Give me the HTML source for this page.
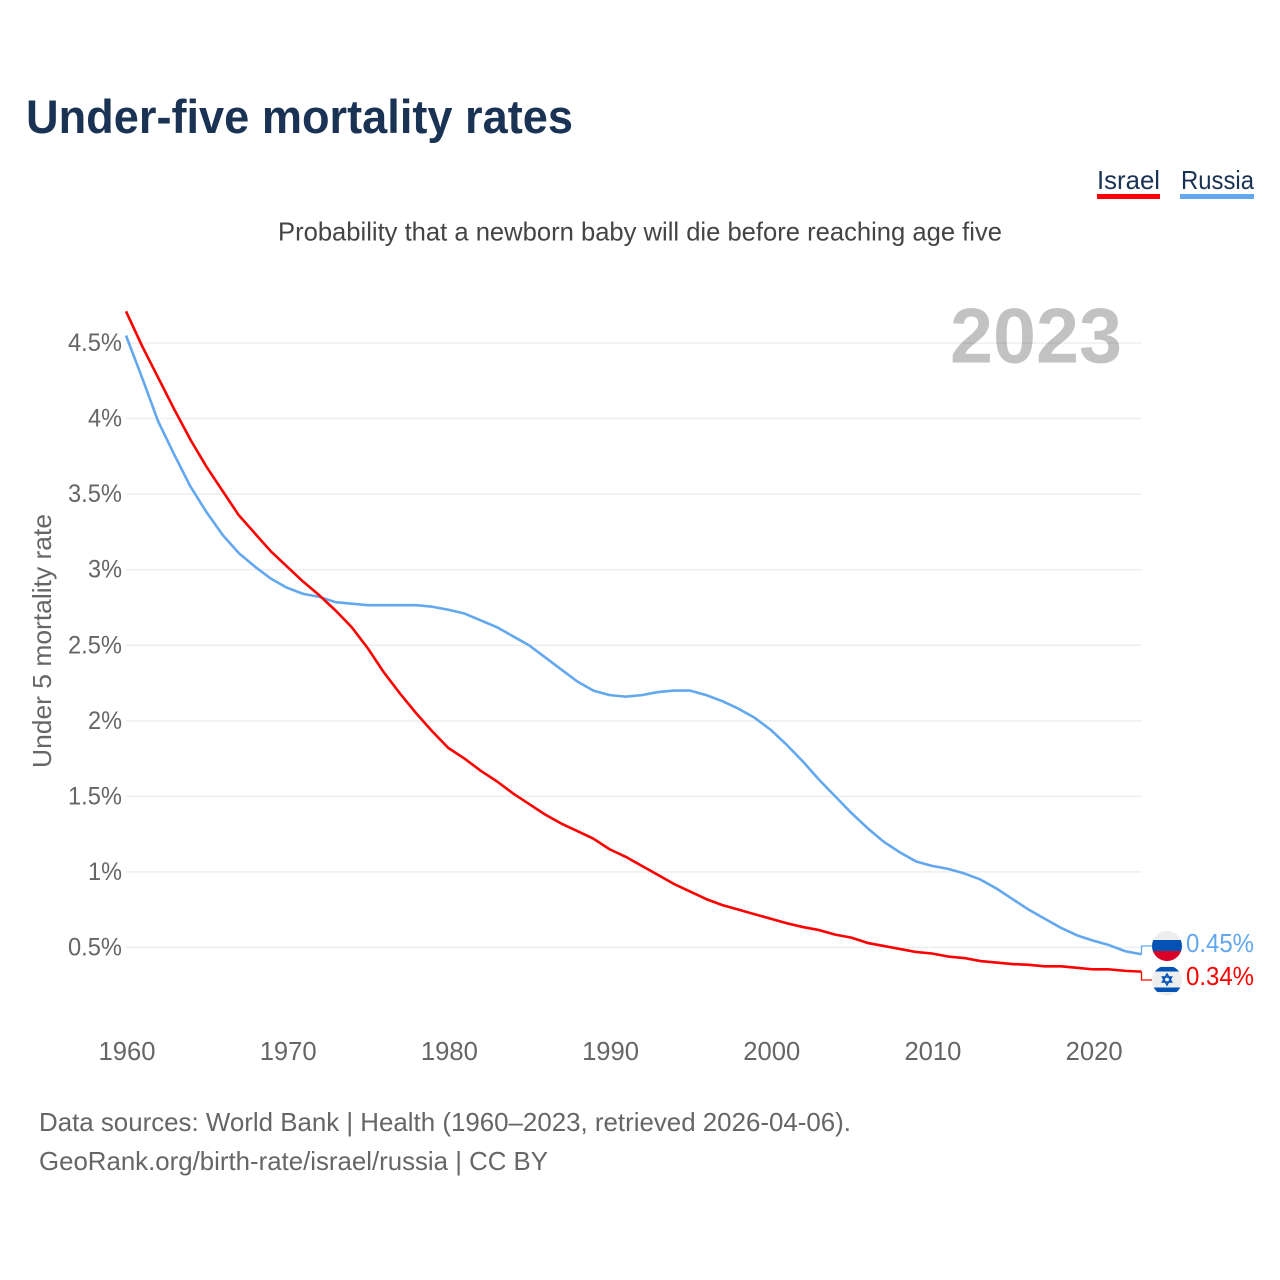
<!DOCTYPE html>
<html lang="en">
<head>
<meta charset="utf-8">
<title>Under-five mortality rates</title>
<style>
html,body{margin:0;padding:0;background:#fff;width:1280px;height:1280px;overflow:hidden}
svg{display:block;font-family:"Liberation Sans",sans-serif}
</style>
</head>
<body>
<svg id="chart" width="1280" height="1280" viewBox="0 0 1280 1280" xmlns="http://www.w3.org/2000/svg">
  <rect width="1280" height="1280" fill="#fff"/>
  <text x="26" y="133" font-size="47" font-weight="700" fill="#1a3354" textLength="547" lengthAdjust="spacingAndGlyphs">Under-five mortality rates</text>
  <g>
    <text x="1097" y="189" font-size="26" fill="#1a3354" textLength="63" lengthAdjust="spacingAndGlyphs">Israel</text>
    <rect x="1097" y="194" width="63" height="5" fill="#ff0000"/>
  </g>
  <g>
    <text x="1181" y="189" font-size="26" fill="#1a3354" textLength="73" lengthAdjust="spacingAndGlyphs">Russia</text>
    <rect x="1180" y="194" width="74" height="5" fill="#63a8ef"/>
  </g>
  <text x="278" y="240.5" font-size="26" fill="#444" textLength="724" lengthAdjust="spacingAndGlyphs">Probability that a newborn baby will die before reaching age five</text>
  <g id="grid"></g>
  <text x="1122" y="362.5" font-size="78" font-weight="700" fill="#000" fill-opacity="0.24" text-anchor="end" textLength="172" lengthAdjust="spacingAndGlyphs">2023</text>
  <g id="yTicks"></g>
  <g id="xTicks"></g>
  <text transform="translate(51,641) rotate(-90)" font-size="26" fill="#666" text-anchor="middle" textLength="254" lengthAdjust="spacingAndGlyphs">Under 5 mortality rate</text>
  <path id="lineRussia" fill="none" stroke="#63a8ef" stroke-width="2.6" stroke-linejoin="round"/>
  <path id="lineIsrael" fill="none" stroke="#ff0000" stroke-width="2.6" stroke-linejoin="round"/>
  <path id="leaderRussia" fill="none" stroke="#63a8ef" stroke-width="1.3"/>
  <path id="leaderIsrael" fill="none" stroke="#ff0000" stroke-width="1.3"/>
  <defs>
    <clipPath id="clipRu"><circle cx="1167" cy="946" r="15"/></clipPath>
    <clipPath id="clipIl"><circle cx="1167" cy="980.5" r="15"/></clipPath>
  </defs>
  <g clip-path="url(#clipRu)">
    <rect x="1152" y="931" width="30" height="10" fill="#eeeeee"/>
    <rect x="1152" y="940" width="30" height="11" fill="#0052b4"/>
    <rect x="1152" y="951" width="30" height="11" fill="#d80027"/>
  </g>
  <g clip-path="url(#clipIl)">
    <rect x="1152" y="965" width="30" height="31" fill="#eeeeee"/>
    <rect x="1152" y="967" width="30" height="4.5" fill="#0052b4"/>
    <rect x="1152" y="987.5" width="30" height="4.5" fill="#0052b4"/>
    <path d="M1167 974l4.6 8h-9.2zM1167 985l-4.6-8h9.2z" fill="none" stroke="#0052b4" stroke-width="1.5"/>
  </g>
  <text id="valRussia" x="1186" y="952" font-size="26" fill="#63a8ef" textLength="68" lengthAdjust="spacingAndGlyphs"></text>
  <text id="valIsrael" x="1186" y="985" font-size="26" fill="#ff0000" textLength="68" lengthAdjust="spacingAndGlyphs"></text>
  <text x="39" y="1131" font-size="26" fill="#666" textLength="812" lengthAdjust="spacingAndGlyphs">Data sources: World Bank | Health (1960–2023, retrieved 2026-04-06).</text>
  <text x="39" y="1170" font-size="26" fill="#666" textLength="509" lengthAdjust="spacingAndGlyphs">GeoRank.org/birth-rate/israel/russia | CC BY</text>
</svg>
<script>
const startYear = 1960;
const xTickYears = [1960, 1970, 1980, 1990, 2000, 2010, 2020];
const yTickValues = [0.5, 1, 1.5, 2, 2.5, 3, 3.5, 4, 4.5];
const israelValues = [4.71,4.48,4.27,4.06,3.86,3.68,3.52,3.36,3.24,3.12,3.02,2.92,2.83,2.73,2.62,2.48,2.32,2.18,2.05,1.93,1.82,1.75,1.67,1.60,1.52,1.45,1.38,1.32,1.27,1.22,1.15,1.10,1.04,0.98,0.92,0.87,0.82,0.78,0.75,0.72,0.69,0.66,0.635,0.615,0.585,0.565,0.53,0.51,0.49,0.47,0.46,0.44,0.43,0.41,0.40,0.39,0.385,0.375,0.375,0.365,0.355,0.355,0.345,0.34];
const russiaValues = [4.55,4.27,3.98,3.76,3.55,3.38,3.23,3.11,3.02,2.94,2.88,2.84,2.82,2.785,2.775,2.765,2.765,2.765,2.765,2.755,2.735,2.71,2.665,2.62,2.56,2.50,2.42,2.34,2.26,2.20,2.17,2.16,2.17,2.19,2.20,2.20,2.17,2.13,2.08,2.02,1.94,1.84,1.73,1.61,1.50,1.39,1.29,1.20,1.13,1.07,1.04,1.02,0.99,0.95,0.89,0.82,0.75,0.69,0.63,0.58,0.545,0.515,0.475,0.455];

const SVGNS = 'http://www.w3.org/2000/svg';
function xScale(year) { return 126 + (year - 1960) * (1141.5 - 126) / 63; }
function yScale(v) { return 1023 - v * 151.1; }
function linePath(values) {
  return values.map(function (v, i) {
    return (i ? 'L' : 'M') + xScale(startYear + i).toFixed(2) + ' ' + yScale(v).toFixed(2);
  }).join('');
}
function pct(v) { return String(v) + '%'; }

const grid = document.getElementById('grid');
const yTicks = document.getElementById('yTicks');
yTickValues.forEach(function (v) {
  const ln = document.createElementNS(SVGNS, 'line');
  
  
  ln.setAttribute('x1', xScale(1960));
  ln.setAttribute('x2', xScale(2023));
  ln.setAttribute('y1', yScale(v));
  ln.setAttribute('y2', yScale(v));
  ln.setAttribute('stroke', '#eeeeee');
  ln.setAttribute('stroke-width', '1.4');
  grid.appendChild(ln);
  const t = document.createElementNS(SVGNS, 'text');
  
  
  t.setAttribute('x', 122);
  t.setAttribute('y', yScale(v) + 8);
  t.setAttribute('text-anchor', 'end');
  t.setAttribute('font-size', '25');
  t.setAttribute('fill', '#666');
  t.textContent = pct(v);
  t.setAttribute('textLength', Number.isInteger(v) ? 34 : 54);
  t.setAttribute('lengthAdjust', 'spacingAndGlyphs');
  yTicks.appendChild(t);
});

const xTicks = document.getElementById('xTicks');
xTickYears.forEach(function (yr) {
  const t = document.createElementNS(SVGNS, 'text');
  
  
  t.setAttribute('x', xScale(yr) + 1);
  t.setAttribute('y', 1060);
  t.setAttribute('text-anchor', 'middle');
  t.setAttribute('font-size', '26');
  t.setAttribute('fill', '#666');
  t.setAttribute('textLength', 57);
  t.setAttribute('lengthAdjust', 'spacingAndGlyphs');
  t.textContent = yr;
  xTicks.appendChild(t);
});

document.getElementById('lineIsrael').setAttribute('d', linePath(israelValues));
document.getElementById('lineRussia').setAttribute('d', linePath(russiaValues));

const lastIsrael = israelValues[israelValues.length - 1];
const lastRussia = russiaValues[russiaValues.length - 1];
const endX = xScale(startYear + israelValues.length - 1);
document.getElementById('leaderIsrael').setAttribute('d', 'M' + endX + ' ' + yScale(lastIsrael) + 'V980H1152');
document.getElementById('leaderRussia').setAttribute('d', 'M' + endX + ' ' + yScale(lastRussia) + 'V946H1152');
document.getElementById('valIsrael').textContent = lastIsrael.toFixed(2) + '%';
document.getElementById('valRussia').textContent = (Math.floor(lastRussia * 100) / 100).toFixed(2) + '%';
</script>
</body>
</html>
